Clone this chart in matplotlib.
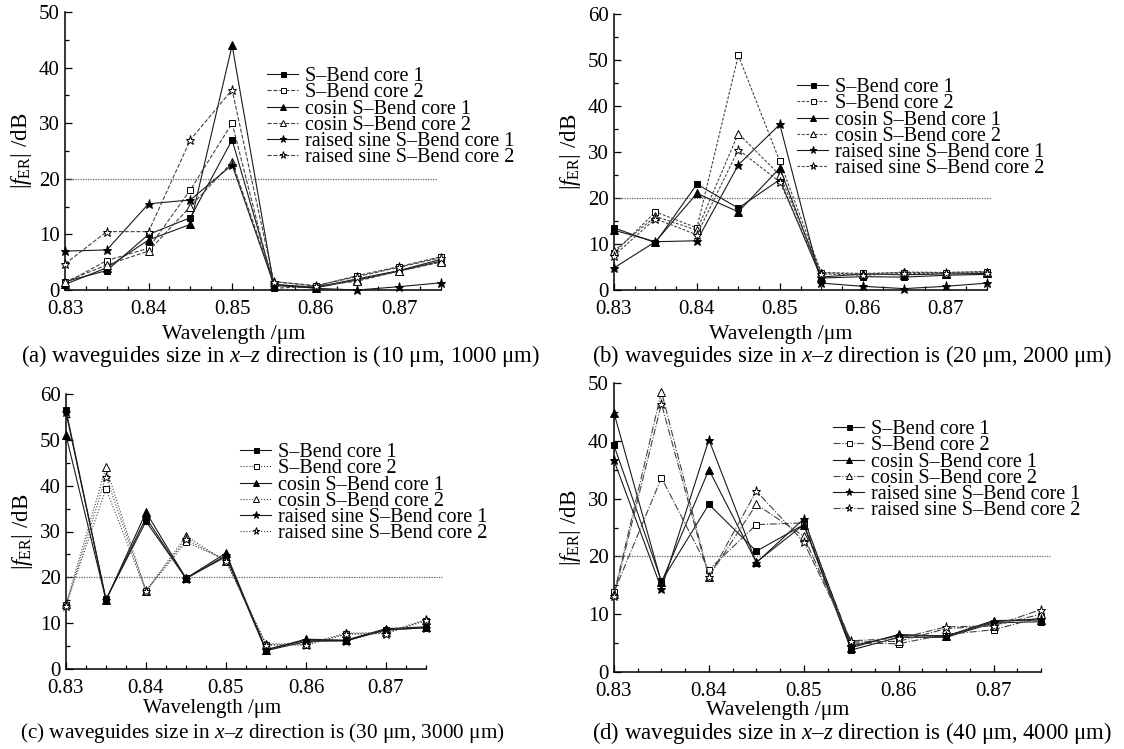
import matplotlib
matplotlib.use("Agg")
import matplotlib.pyplot as plt
from matplotlib.ticker import MultipleLocator

plt.rcParams['font.family'] = ['Liberation Serif', 'DejaVu Serif']
plt.rcParams['mathtext.fontset'] = 'custom'
plt.rcParams['mathtext.rm'] = 'Liberation Serif'
plt.rcParams['mathtext.it'] = 'Liberation Serif:italic'

wavelength = [0.830, 0.835, 0.840, 0.845, 0.850, 0.855, 0.860, 0.865, 0.870, 0.875]
series_labels = ["S–Bend core 1", "S–Bend core 2", "cosin S–Bend core 1",
                 "cosin S–Bend core 2", "raised sine S–Bend core 1",
                 "raised sine S–Bend core 2"]

# panel (a)
a_sb1 = [1.5, 3.5, 10.0, 13.0, 27.0, 1.0, 0.5, 2.0, 3.5, 5.5]
a_sb2 = [1.2, 5.3, 7.5, 18.0, 30.0, 0.3, 0.7, 2.6, 4.2, 6.0]
a_cos1 = [1.0, 4.0, 9.0, 11.8, 44.0, 0.8, 0.4, 1.8, 3.4, 5.2]
a_cos2 = [1.5, 4.5, 7.0, 15.0, 23.0, 1.5, 0.7, 1.6, 3.4, 5.0]
a_rs1 = [7.0, 7.2, 15.5, 16.2, 22.5, 1.0, 0.3, 0.0, 0.6, 1.3]
a_rs2 = [4.7, 10.5, 10.5, 27.0, 36.0, 1.5, 0.8, 2.4, 4.1, 5.8]
# panel (b)
b_sb1 = [13.5, 10.3, 23.0, 17.8, 24.0, 2.6, 2.9, 2.8, 3.2, 3.4]
b_sb2 = [8.0, 17.0, 13.5, 51.0, 28.0, 3.8, 3.6, 3.8, 3.8, 4.0]
b_cos1 = [13.0, 10.5, 21.0, 17.0, 26.5, 2.8, 3.5, 3.3, 3.5, 3.6]
b_cos2 = [8.5, 16.0, 13.0, 34.0, 25.0, 3.8, 3.4, 3.9, 3.8, 4.0]
b_rs1 = [4.8, 10.5, 10.7, 27.2, 36.0, 1.5, 0.8, 0.3, 0.8, 1.5]
b_rs2 = [7.5, 15.5, 12.0, 30.5, 23.5, 3.5, 3.2, 3.6, 3.6, 3.8]
# panel (c)
c_sb1 = [56.5, 15.2, 32.2, 19.8, 24.5, 4.0, 6.0, 6.2, 8.5, 9.0]
c_sb2 = [14.0, 39.3, 17.0, 27.7, 23.8, 5.2, 5.2, 7.6, 7.8, 10.5]
c_cos1 = [51.0, 15.0, 34.2, 19.8, 25.3, 4.2, 6.5, 6.3, 8.8, 9.2]
c_cos2 = [14.2, 44.0, 17.0, 29.0, 23.5, 5.5, 5.5, 7.8, 8.0, 10.8]
c_rs1 = [56.0, 15.1, 33.0, 19.7, 24.8, 4.2, 6.3, 6.1, 8.6, 9.0]
c_rs2 = [13.8, 42.0, 17.0, 28.3, 23.6, 5.3, 5.3, 7.6, 7.7, 10.7]
# panel (d)
d_sb1 = [39.2, 15.7, 29.0, 20.9, 25.5, 3.8, 6.0, 6.0, 8.5, 8.7]
d_sb2 = [13.8, 33.6, 17.7, 25.5, 25.8, 5.0, 4.9, 6.5, 7.3, 9.5]
d_cos1 = [44.8, 15.5, 35.0, 19.0, 25.5, 4.2, 6.5, 6.2, 8.9, 9.0]
d_cos2 = [13.5, 48.5, 16.5, 29.0, 23.5, 5.2, 5.3, 7.5, 8.0, 10.0]
d_rs1 = [36.6, 14.4, 40.2, 18.9, 26.5, 4.5, 6.3, 6.2, 8.7, 9.2]
d_rs2 = [13.2, 46.4, 16.4, 31.3, 22.5, 5.4, 5.8, 7.8, 8.0, 10.8]

panel_data = [
    [a_sb1, a_sb2, a_cos1, a_cos2, a_rs1, a_rs2],
    [b_sb1, b_sb2, b_cos1, b_cos2, b_rs1, b_rs2],
    [c_sb1, c_sb2, c_cos1, c_cos2, c_rs1, c_rs2],
    [d_sb1, d_sb2, d_cos1, d_cos2, d_rs1, d_rs2],
]
y_max = [50, 60, 60, 50]
threshold = 20
threshold_end = [0.8745, 0.8755, 0.877, 0.876]
captions = [
    "(a) waveguides size in $x$–$z$ direction is (10 μm, 1000 μm)",
    "(b) waveguides size in $x$–$z$ direction is (20 μm, 2000 μm)",
    "(c) waveguides size in $x$–$z$ direction is (30 μm, 3000 μm)",
    "(d) waveguides size in $x$–$z$ direction is (40 μm, 4000 μm)",
]

W, H = 1124, 749
fig = plt.figure(figsize=(W / 100, H / 100), dpi=100)

# axes rectangles in pixels: left, right, top, bottom
rects_px = [(65, 441, 12, 290), (614, 987, 14, 290),
            (66, 426, 394, 669), (614, 1041, 383, 672)]
legend_px = [(267, 67), (797, 78), (240, 443), (833, 420)]
xlabel_px = [(234, 334), (781, 334), (212, 709), (778, 711)]
xlabel_fs = [15.7, 15.7, 15.0, 15.7]
caption_px = [(280, 356), (852, 356), (262, 733), (852, 733)]
caption_fs = [16.4, 16.4, 15.3, 16.4]
dash_styles = ['--', (0, (2.5, 1.5)), ':', '-.']

markers = ['s', 's', '^', '^', '*', '*']
filled = [True, False, True, False, True, False]
msizes = [4.5, 4.5, 5.2, 5.2, 6.5, 6.5]
FS = 15
LFS = 14.5

for i, (l, r, t, b) in enumerate(rects_px):
    ax = fig.add_axes([l / W, 1 - b / H, (r - l) / W, (b - t) / H])
    for k, ys in enumerate(panel_data[i]):
        core1 = filled[k]
        ax.plot(wavelength, ys,
                linestyle='-' if core1 else dash_styles[i],
                color='#1a1a1a' if core1 else '#444444',
                linewidth=0.8,
                marker=markers[k], markersize=msizes[k],
                markerfacecolor='black' if core1 else 'white',
                markeredgecolor='black', markeredgewidth=0.7,
                label=series_labels[k], clip_on=False, zorder=3)
    ax.plot([wavelength[0], threshold_end[i]], [threshold, threshold],
            linestyle=(0, (1, 1)), color='#666666', linewidth=0.9,
            clip_on=False, zorder=2)
    ax.set_xlim(0.83, 0.875)
    ax.set_ylim(0, y_max[i])
    ax.spines['top'].set_visible(False)
    ax.spines['right'].set_visible(False)
    ax.spines['left'].set_linewidth(1.1)
    ax.spines['bottom'].set_linewidth(1.1)
    ax.xaxis.set_major_locator(MultipleLocator(0.01))
    ax.xaxis.set_minor_locator(MultipleLocator(0.0025))
    ax.yaxis.set_major_locator(MultipleLocator(10))
    ax.yaxis.set_minor_locator(MultipleLocator(5))
    ax.set_xticks([0.83, 0.84, 0.85, 0.86, 0.87])
    ax.set_xticklabels(["0.83", "0.84", "0.85", "0.86", "0.87"])
    ax.tick_params(which='both', direction='in', labelsize=FS, width=0.9)
    ax.tick_params(axis='x', which='major', length=5, pad=7.5)
    ax.tick_params(axis='y', which='major', length=5, pad=4)
    ax.tick_params(which='minor', length=3)
    ax.set_ylabel(r"$|f_{\rm ER}|$ /dB", fontsize=16.5, labelpad=3)
    ax.patch.set_alpha(0)

    lx, ly = legend_px[i]
    ax.legend(loc='upper left', bbox_to_anchor=(lx / W, 1 - ly / H),
              bbox_transform=fig.transFigure, frameon=False, fontsize=LFS,
              borderpad=0, borderaxespad=0, labelspacing=-0.14,
              handlelength=1.55, handletextpad=0.35, markerscale=0.8)

    xx, xy = xlabel_px[i]
    fig.text(xx / W, 1 - xy / H, "Wavelength /μm", ha='center', va='center',
             fontsize=xlabel_fs[i])
    cx, cy = caption_px[i]
    fig.text(cx / W, 1 - cy / H, captions[i], ha='center', va='center',
             fontsize=caption_fs[i])

fig.savefig("out.png", dpi=100, facecolor='white')
